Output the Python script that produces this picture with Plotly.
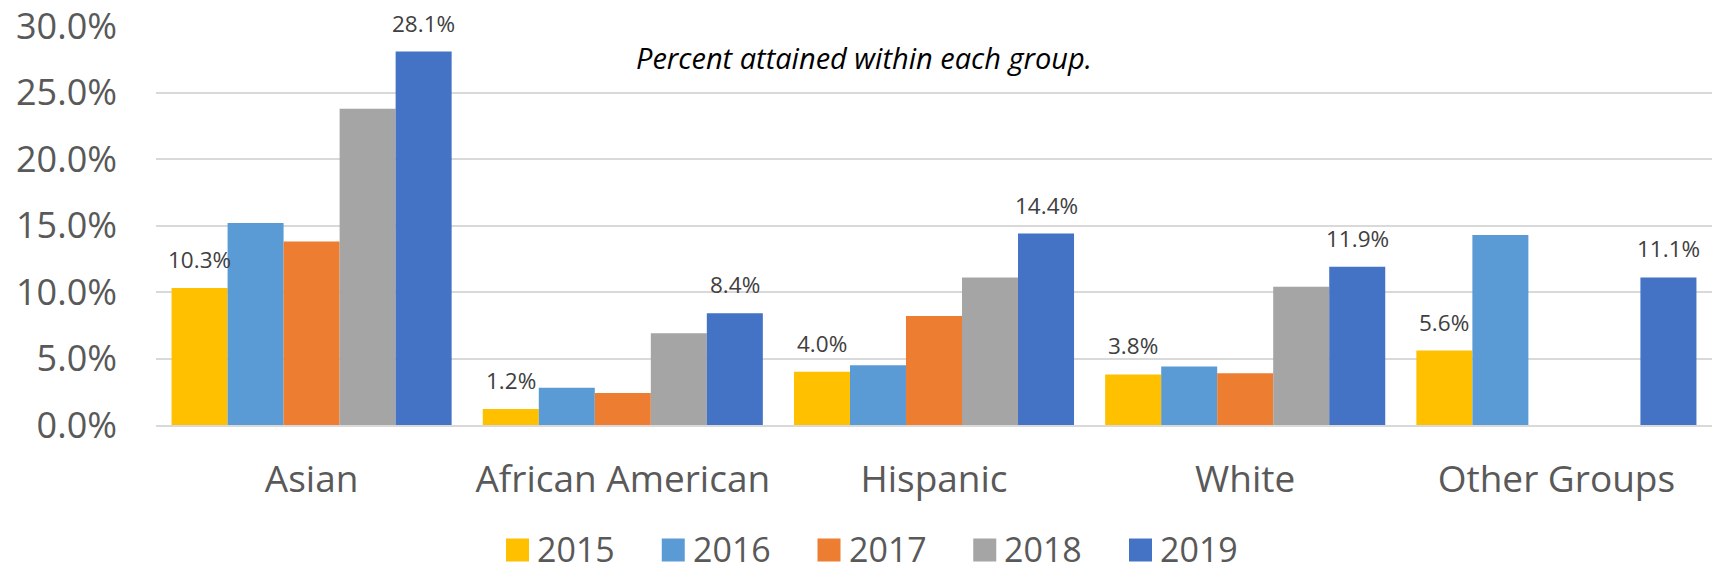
import plotly.graph_objects as go

# Share of each group attaining the benchmark, by year (percent)
groups = ["Asian", "African American", "Hispanic", "White", "Other Groups"]
years = ["2015", "2016", "2017", "2018", "2019"]
pct_2015 = [10.3, 1.2, 4.0, 3.8, 5.6]
pct_2016 = [15.2, 2.8, 4.5, 4.4, 14.3]
pct_2017 = [13.8, 2.4, 8.2, 3.9, None]
pct_2018 = [23.8, 6.9, 11.1, 10.4, None]
pct_2019 = [28.1, 8.4, 14.4, 11.9, 11.1]
y_ticks = [0, 5, 10, 15, 20, 25, 30]

series = [pct_2015, pct_2016, pct_2017, pct_2018, pct_2019]
colors = ["#FFC000", "#5B9BD5", "#ED7D31", "#A5A5A5", "#4472C4"]
labelled_years = ["2015", "2019"]

FONT = "Open Sans"
W, H = 1714, 573
ML, MR, MT, MB = 156, 2, 26, 148
plot_w = W - ML - MR
plot_h = H - MT - MB
Y_MAX = 30.02
BARGAP = 0.1
bar_px = plot_w / len(groups) * (1 - BARGAP) / len(years)

fig = go.Figure()
for year, vals, col in zip(years, series, colors):
    fig.add_trace(go.Bar(
        name=year, x=groups, y=vals,
        marker=dict(color=col, line=dict(width=0)),
        showlegend=False,
        hovertemplate="%{x}<br>" + year + ": %{y:.1f}%<extra></extra>",
    ))

# value labels above the 2015 and 2019 bars
annotations = []
for i, (year, vals) in enumerate(zip(years, series)):
    if year not in labelled_years:
        continue
    for g, v in zip(groups, vals):
        if v is None:
            continue
        annotations.append(dict(
            x=g, y=v, xref="x", yref="y", text=f"{v:.1f}%",
            showarrow=False, yanchor="bottom", xanchor="center",
            xshift=(i - (len(years) - 1) / 2) * bar_px, yshift=11,
            font=dict(family=FONT, size=22.5, color="#404040"),
        ))

annotations.append(dict(
    x=(864 - ML) / plot_w, y=(MT + plot_h - 57) / plot_h,
    xref="paper", yref="paper", text="<i>Percent attained within each group.</i>",
    showarrow=False, xanchor="center", yanchor="middle",
    font=dict(family=FONT, size=29, color="#000000"),
))

# legend row: colour swatch followed by the year
shapes = []
LEG_X0, LEG_STEP, SW, LEG_YC = 506, 155.75, 23, 550
for i, (year, col) in enumerate(zip(years, colors)):
    x0 = LEG_X0 + i * LEG_STEP
    shapes.append(dict(
        type="rect", xref="paper", yref="paper",
        x0=(x0 - ML) / plot_w, x1=(x0 + SW - ML) / plot_w,
        y0=(MT + plot_h - (LEG_YC + SW / 2)) / plot_h,
        y1=(MT + plot_h - (LEG_YC - SW / 2)) / plot_h,
        fillcolor=col, line=dict(width=0),
    ))
    annotations.append(dict(
        x=(x0 + SW + 6 - ML) / plot_w, y=(MT + plot_h - 549) / plot_h,
        xref="paper", yref="paper", text=year, showarrow=False,
        xanchor="left", yanchor="middle",
        font=dict(family=FONT, size=34, color="#595959"),
    ))

fig.update_layout(
    width=W, height=H,
    margin=dict(l=ML, r=MR, t=MT, b=MB, pad=0),
    paper_bgcolor="white", plot_bgcolor="white",
    barmode="group", bargap=BARGAP, bargroupgap=0,
    font=dict(family=FONT, color="#595959"),
    annotations=annotations, shapes=shapes,
    showlegend=False,
)
fig.update_xaxes(
    type="category", showgrid=False, zeroline=False, automargin=False,
    showline=True, linecolor="#D9D9D9", linewidth=2,
    ticks="", ticklabelstandoff=21,
    tickfont=dict(family=FONT, size=37, color="#595959"),
)
fig.update_yaxes(
    range=[0, Y_MAX], tickvals=y_ticks, ticktext=[f"{t:.1f}%" for t in y_ticks],
    showgrid=True, gridcolor="#D9D9D9", gridwidth=2, automargin=False,
    zeroline=False, showline=False, ticks="", ticklabelstandoff=38,
    ticklabeloverflow="allow",
    tickfont=dict(family=FONT, size=36, color="#595959"),
)

fig.write_html("out.html")
